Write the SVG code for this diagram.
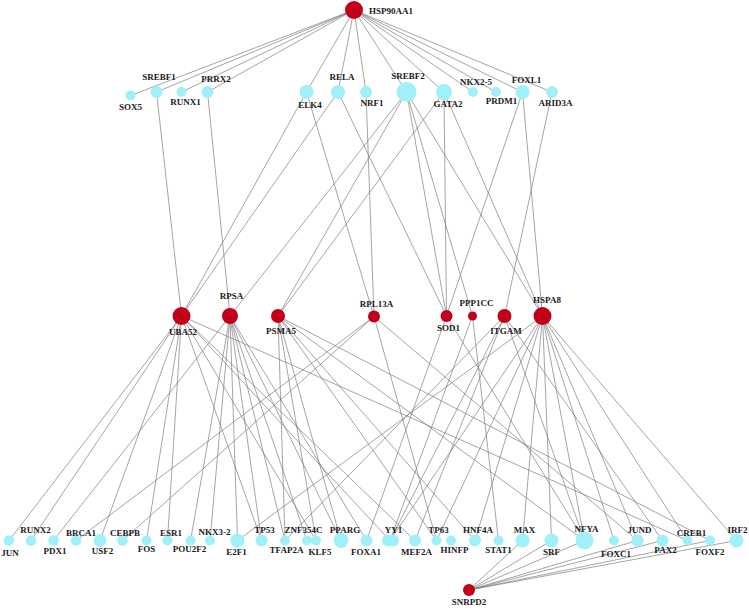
<svg xmlns="http://www.w3.org/2000/svg" width="749" height="610" viewBox="0 0 749 610">
<style>
.e line{stroke:#747474;stroke-width:0.65}
.r{fill:#c3001a}
.c{fill:#9ff0f8}
text{font-family:"Liberation Serif","Times New Roman",serif;font-weight:bold;font-size:9px;fill:#1a1a1a;text-anchor:middle}
</style>
<rect width="749" height="610" fill="#ffffff"/>
<g id="connectors" class="e">
<line x1="354" y1="10" x2="130.5" y2="95.5"/>
<line x1="354" y1="10" x2="156.5" y2="92"/>
<line x1="354" y1="10" x2="181.5" y2="92"/>
<line x1="354" y1="10" x2="207.5" y2="92"/>
<line x1="354" y1="10" x2="306.5" y2="92"/>
<line x1="354" y1="10" x2="338" y2="92"/>
<line x1="354" y1="10" x2="366" y2="92"/>
<line x1="354" y1="10" x2="406.5" y2="92"/>
<line x1="354" y1="10" x2="444" y2="92"/>
<line x1="354" y1="10" x2="473" y2="92"/>
<line x1="354" y1="10" x2="496" y2="92"/>
<line x1="354" y1="10" x2="522.5" y2="92"/>
<line x1="354" y1="10" x2="552" y2="92"/>
<line x1="156.5" y1="92" x2="181.5" y2="316"/>
<line x1="207.5" y1="92" x2="230" y2="316"/>
<line x1="306.5" y1="92" x2="181.5" y2="316"/>
<line x1="338" y1="92" x2="181.5" y2="316"/>
<line x1="306.5" y1="92" x2="374" y2="316.5"/>
<line x1="338" y1="92" x2="446.5" y2="316"/>
<line x1="366" y1="92" x2="374" y2="316.5"/>
<line x1="406.5" y1="92" x2="230" y2="316"/>
<line x1="406.5" y1="92" x2="278" y2="316"/>
<line x1="444" y1="92" x2="278" y2="316"/>
<line x1="406.5" y1="92" x2="446.5" y2="316"/>
<line x1="406.5" y1="92" x2="472.5" y2="316"/>
<line x1="406.5" y1="92" x2="542.5" y2="316"/>
<line x1="444" y1="92" x2="446.5" y2="316"/>
<line x1="444" y1="92" x2="542.5" y2="316"/>
<line x1="522.5" y1="92" x2="446.5" y2="316"/>
<line x1="522.5" y1="92" x2="542.5" y2="316"/>
<line x1="552" y1="92" x2="504.5" y2="316"/>
<line x1="181.5" y1="316" x2="9" y2="540.5"/>
<line x1="181.5" y1="316" x2="31" y2="540.5"/>
<line x1="181.5" y1="316" x2="100" y2="540.5"/>
<line x1="181.5" y1="316" x2="146.5" y2="540.5"/>
<line x1="181.5" y1="316" x2="167.5" y2="540.5"/>
<line x1="181.5" y1="316" x2="261.5" y2="540.5"/>
<line x1="181.5" y1="316" x2="316" y2="540.5"/>
<line x1="181.5" y1="316" x2="390" y2="540.5"/>
<line x1="181.5" y1="316" x2="415" y2="540.5"/>
<line x1="181.5" y1="316" x2="687.5" y2="540.5"/>
<line x1="230" y1="316" x2="53.5" y2="540.5"/>
<line x1="230" y1="316" x2="190.5" y2="540.5"/>
<line x1="230" y1="316" x2="210" y2="540.5"/>
<line x1="230" y1="316" x2="237.5" y2="540.5"/>
<line x1="230" y1="316" x2="261.5" y2="540.5"/>
<line x1="230" y1="316" x2="285" y2="540.5"/>
<line x1="230" y1="316" x2="307" y2="540.5"/>
<line x1="230" y1="316" x2="341" y2="540.5"/>
<line x1="230" y1="316" x2="366.5" y2="540.5"/>
<line x1="278" y1="316" x2="285" y2="540.5"/>
<line x1="278" y1="316" x2="341" y2="540.5"/>
<line x1="278" y1="316" x2="316" y2="540.5"/>
<line x1="278" y1="316" x2="436.5" y2="540.5"/>
<line x1="278" y1="316" x2="475" y2="540.5"/>
<line x1="278" y1="316" x2="584.5" y2="540.5"/>
<line x1="278" y1="316" x2="710" y2="540.5"/>
<line x1="374" y1="316.5" x2="76" y2="540.5"/>
<line x1="374" y1="316.5" x2="122.5" y2="540.5"/>
<line x1="374" y1="316.5" x2="436.5" y2="540.5"/>
<line x1="374" y1="316.5" x2="637.5" y2="540.5"/>
<line x1="446.5" y1="316" x2="366.5" y2="540.5"/>
<line x1="446.5" y1="316" x2="584.5" y2="540.5"/>
<line x1="472.5" y1="316" x2="390" y2="540.5"/>
<line x1="472.5" y1="316" x2="498.5" y2="540.5"/>
<line x1="504.5" y1="316" x2="285" y2="540.5"/>
<line x1="504.5" y1="316" x2="390" y2="540.5"/>
<line x1="504.5" y1="316" x2="415" y2="540.5"/>
<line x1="504.5" y1="316" x2="584.5" y2="540.5"/>
<line x1="504.5" y1="316" x2="662.5" y2="540.5"/>
<line x1="542.5" y1="316" x2="237.5" y2="540.5"/>
<line x1="542.5" y1="316" x2="390" y2="540.5"/>
<line x1="542.5" y1="316" x2="436.5" y2="540.5"/>
<line x1="542.5" y1="316" x2="475" y2="540.5"/>
<line x1="542.5" y1="316" x2="522.5" y2="540.5"/>
<line x1="542.5" y1="316" x2="551.5" y2="540.5"/>
<line x1="542.5" y1="316" x2="584.5" y2="540.5"/>
<line x1="542.5" y1="316" x2="614" y2="540.5"/>
<line x1="542.5" y1="316" x2="637.5" y2="540.5"/>
<line x1="542.5" y1="316" x2="687.5" y2="540.5"/>
<line x1="542.5" y1="316" x2="736.5" y2="540.5"/>
<line x1="469" y1="590" x2="522.5" y2="540.5"/>
<line x1="469" y1="590" x2="551.5" y2="540.5"/>
<line x1="469" y1="590" x2="584.5" y2="540.5"/>
<line x1="469" y1="590" x2="637.5" y2="540.5"/>
<line x1="469" y1="590" x2="662.5" y2="540.5"/>
<line x1="469" y1="590" x2="710" y2="540.5"/>
<line x1="469" y1="590" x2="736.5" y2="540.5"/>
</g>
<g id="HSP90AA1"><circle class="r" cx="354" cy="10" r="9"/><text x="369" y="14" style="text-anchor:start">HSP90AA1</text></g>
<g id="SOX5"><circle class="c" cx="130.5" cy="95.5" r="5"/><text x="130.5" y="110">SOX5</text></g>
<g id="SREBF1"><circle class="c" cx="156.5" cy="92" r="6"/><text x="159" y="80">SREBF1</text></g>
<g id="RUNX1"><circle class="c" cx="181.5" cy="92" r="5"/><text x="185.5" y="105">RUNX1</text></g>
<g id="PRRX2"><circle class="c" cx="207.5" cy="92" r="6"/><text x="216" y="82">PRRX2</text></g>
<g id="ELK4"><circle class="c" cx="306.5" cy="92" r="7"/><text x="310" y="108">ELK4</text></g>
<g id="RELA"><circle class="c" cx="338" cy="92" r="7"/><text x="342" y="80">RELA</text></g>
<g id="NRF1"><circle class="c" cx="366" cy="92" r="6"/><text x="372" y="106">NRF1</text></g>
<g id="SREBF2"><circle class="c" cx="406.5" cy="92" r="10"/><text x="408" y="79">SREBF2</text></g>
<g id="GATA2"><circle class="c" cx="444" cy="92" r="8"/><text x="448" y="107">GATA2</text></g>
<g id="NKX2-5"><circle class="c" cx="473" cy="92" r="5"/><text x="476" y="85">NKX2-5</text></g>
<g id="PRDM1"><circle class="c" cx="496" cy="92" r="5"/><text x="501.5" y="104">PRDM1</text></g>
<g id="FOXL1"><circle class="c" cx="522.5" cy="92" r="7"/><text x="526.5" y="83">FOXL1</text></g>
<g id="ARID3A"><circle class="c" cx="552" cy="92" r="6"/><text x="555.5" y="106">ARID3A</text></g>
<g id="UBA52"><circle class="r" cx="181.5" cy="316" r="9"/><text x="183" y="335">UBA52</text></g>
<g id="RPSA"><circle class="r" cx="230" cy="316" r="8"/><text x="231.5" y="299">RPSA</text></g>
<g id="PSMA5"><circle class="r" cx="278" cy="316" r="7"/><text x="281" y="334">PSMA5</text></g>
<g id="RPL13A"><circle class="r" cx="374" cy="316.5" r="6"/><text x="376.5" y="307">RPL13A</text></g>
<g id="SOD1"><circle class="r" cx="446.5" cy="316" r="6"/><text x="448.5" y="331">SOD1</text></g>
<g id="PPP1CC"><circle class="r" cx="472.5" cy="316" r="4.5"/><text x="476.5" y="306">PPP1CC</text></g>
<g id="ITGAM"><circle class="r" cx="504.5" cy="316" r="7"/><text x="506" y="334">ITGAM</text></g>
<g id="HSPA8"><circle class="r" cx="542.5" cy="316" r="9"/><text x="547" y="303">HSPA8</text></g>
<g id="JUN"><circle class="c" cx="9" cy="540.5" r="5.3"/><text x="10" y="556">JUN</text></g>
<g id="RUNX2"><circle class="c" cx="31" cy="540.5" r="5.3"/><text x="35.5" y="532.5">RUNX2</text></g>
<g id="PDX1"><circle class="c" cx="53.5" cy="540.5" r="5.3"/><text x="55" y="554">PDX1</text></g>
<g id="BRCA1"><circle class="c" cx="76" cy="540.5" r="5.3"/><text x="81" y="536">BRCA1</text></g>
<g id="USF2"><circle class="c" cx="100" cy="540.5" r="6.5"/><text x="102.5" y="554">USF2</text></g>
<g id="CEBPB"><circle class="c" cx="122.5" cy="540.5" r="5.3"/><text x="125" y="536">CEBPB</text></g>
<g id="FOS"><circle class="c" cx="146.5" cy="540.5" r="5"/><text x="146.5" y="551.5">FOS</text></g>
<g id="ESR1"><circle class="c" cx="167.5" cy="540.5" r="5"/><text x="171" y="536">ESR1</text></g>
<g id="POU2F2"><circle class="c" cx="190.5" cy="540.5" r="5"/><text x="189.5" y="552">POU2F2</text></g>
<g id="NKX3-2"><circle class="c" cx="210" cy="540.5" r="5"/><text x="214.5" y="535">NKX3-2</text></g>
<g id="E2F1"><circle class="c" cx="237.5" cy="540.5" r="7"/><text x="236.5" y="555">E2F1</text></g>
<g id="TP53"><circle class="c" cx="261.5" cy="540.5" r="6"/><text x="264.5" y="533">TP53</text></g>
<g id="TFAP2A"><circle class="c" cx="285" cy="540.5" r="5"/><text x="286.5" y="552.5">TFAP2A</text></g>
<g id="ZNF354C"><circle class="c" cx="307" cy="540.5" r="5"/><text x="303.5" y="533">ZNF354C</text></g>
<g id="KLF5"><circle class="c" cx="316" cy="540.5" r="5"/><text x="320" y="555">KLF5</text></g>
<g id="PPARG"><circle class="c" cx="341" cy="540.5" r="7.5"/><text x="345" y="533">PPARG</text></g>
<g id="FOXA1"><circle class="c" cx="366.5" cy="540.5" r="6"/><text x="366" y="555">FOXA1</text></g>
<g id="YY1"><circle class="c" cx="388" cy="540.5" r="6"/><circle class="c" cx="393" cy="540.5" r="6"/><text x="393.5" y="533">YY1</text></g>
<g id="MEF2A"><circle class="c" cx="415" cy="540.5" r="6"/><text x="416.5" y="555">MEF2A</text></g>
<g id="TP63"><circle class="c" cx="436.5" cy="540.5" r="5"/><text x="438.5" y="533">TP63</text></g>
<g id="HINFP"><circle class="c" cx="451" cy="540.5" r="5"/><text x="454.5" y="552.5">HINFP</text></g>
<g id="HNF4A"><circle class="c" cx="475" cy="540.5" r="6"/><text x="478" y="533">HNF4A</text></g>
<g id="STAT1"><circle class="c" cx="498.5" cy="540.5" r="5"/><text x="498.5" y="552.5">STAT1</text></g>
<g id="MAX"><circle class="c" cx="522.5" cy="540.5" r="7"/><text x="524.5" y="532.5">MAX</text></g>
<g id="SRF"><circle class="c" cx="551.5" cy="540.5" r="7"/><text x="551.5" y="555">SRF</text></g>
<g id="NFYA"><circle class="c" cx="584.5" cy="540.5" r="9"/><text x="586.5" y="531.5">NFYA</text></g>
<g id="FOXC1"><circle class="c" cx="614" cy="540.5" r="5"/><text x="616" y="556.5">FOXC1</text></g>
<g id="JUND"><circle class="c" cx="637.5" cy="540.5" r="6"/><text x="639.5" y="532.5">JUND</text></g>
<g id="PAX2"><circle class="c" cx="662.5" cy="540.5" r="6"/><text x="665.5" y="553">PAX2</text></g>
<g id="CREB1"><circle class="c" cx="687.5" cy="540.5" r="5"/><text x="691.5" y="536">CREB1</text></g>
<g id="FOXF2"><circle class="c" cx="710" cy="540.5" r="5"/><text x="710" y="555">FOXF2</text></g>
<g id="IRF2"><circle class="c" cx="736.5" cy="540.5" r="7"/><text x="737.5" y="533">IRF2</text></g>
<g id="SNRPD2"><circle class="r" cx="469" cy="590" r="6"/><text x="469" y="605">SNRPD2</text></g>
</svg>
